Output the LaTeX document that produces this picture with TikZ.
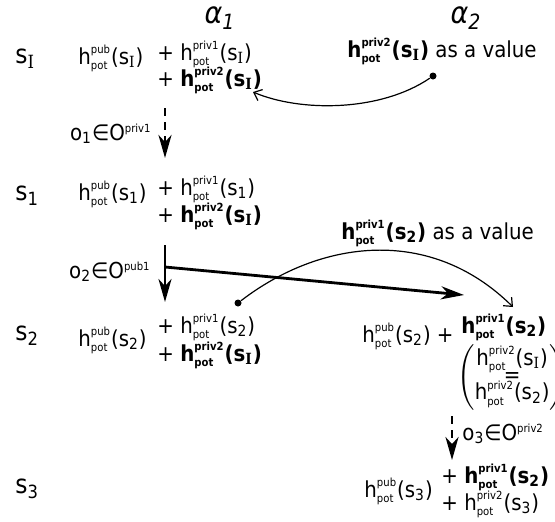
\documentclass[tikz,border=0pt]{standalone}
\usepackage{amsmath}
\usepackage{fontspec}
\setmainfont{DejaVu Sans}[FakeStretch=0.9]
\newfontfamily\Ifont{DejaVu Serif}[FakeStretch=0.9]
\usetikzlibrary{positioning,arrows.meta,calc}

% tiny script text for the h-terms
\newcommand\supf{\fontsize{5.6}{6}\selectfont}
\newcommand\sI{s\textsubscript{\Ifont I}}
\newcommand\sn[1]{s\textsubscript{#1}}
\newcommand\hpot[2]{\ensuremath{\hbox{h}^{\hbox{\supf #1}}_{\hbox{\supf pot}}}(#2)}
\newcommand\act[2]{o\textsubscript{#1}∈O\textsuperscript{\supf #2}}

\begin{document}
\begin{tikzpicture}[x=0.5pt,y=-0.5pt,font=\fontsize{11}{13}\selectfont,
    txt/.style={inner sep=0pt,anchor=base west},
    statelbl/.style={txt,font=\fontsize{13}{15}\selectfont},
    agent/.style={inner sep=0pt,font=\fontsize{15}{17}\selectfont\itshape},
    thickarr/.style={line width=1.4pt,-{Stealth[length=11.5pt,width=6.5pt,inset=3.5pt]}},
    dasharr/.style={thickarr,dash pattern=on 4pt off 3pt},
    valarr/.style={line width=0.6pt,-{Straight Barb[length=3.5pt,width=6pt]}},
    dot/.style={circle,fill,inner sep=0pt,minimum size=3.5pt}]
  \useasboundingbox (0,0) rectangle (555,521);

  % agents
  \node[agent] (alphaA) at (220,18) {α\textsubscript{1}};
  \node[agent] (alphaB) at (466,18) {α\textsubscript{2}};

  % states
  \node[statelbl] (lblI) at (15,63) {\sI};
  \node[statelbl] (lbl1) at (15,200) {\sn{1}};
  \node[statelbl] (lbl2) at (15,340) {\sn{2}};
  \node[statelbl] (lbl3) at (15,493) {\sn{3}};

  % potentials seen by agent 1
  \node[txt] (pubI) at (78,64) {\hpot{pub}{\sI}};
  \node[txt] (aI) at (157,60) {+ \hpot{priv1}{\sI}};
  \node[txt] (bI) at (157,86) {+ \textbf{\hpot{priv2}{\sI}}};

  \node[txt] (pub1) at (78,200) {\hpot{pub}{\sn{1}}};
  \node[txt] (a1) at (157,195) {+ \hpot{priv1}{\sn{1}}};
  \node[txt] (b1) at (157,222) {+ \textbf{\hpot{priv2}{\sI}}};

  \node[txt] (pub2) at (78,346) {\hpot{pub}{\sn{2}}};
  \node[txt] (a2) at (157,333) {+ \hpot{priv1}{\sn{2}}};
  \node[txt] (b2) at (157,361) {+ \textbf{\hpot{priv2}{\sI}}};

  % potentials seen by agent 2
  \node[txt] (valA) at (347,57) {\textbf{\hpot{priv2}{\sI}} as a value};
  \node[txt] (valB) at (341,239) {\textbf{\hpot{priv1}{\sn{2}}} as a value};

  \node[txt] (pubR2) at (362,342) {\hpot{pub}{\sn{2}} +};
  \node[txt] (privR2) at (461,333) {\textbf{\hpot{priv1}{\sn{2}}}};
  \node[inner sep=0pt,anchor=west] (eqcol) at (457,377)
    {$\left(\begin{array}{@{}c@{}}\hbox{\hpot{priv2}{\sI}}\\[-4.5pt]
      \hbox{=}\\[-4.5pt]\hbox{\hpot{priv2}{\sn{2}}}\end{array}\right)$};

  \node[txt] (pub3) at (364,497) {\hpot{pub}{\sn{3}}};
  \node[txt] (a3) at (441,483) {+ \textbf{\hpot{priv1}{\sn{2}}}};
  \node[txt] (b3) at (441,510) {+ \hpot{priv2}{\sn{3}}};

  % transitions
  \coordinate (t1s) at (165,108);
  \coordinate (t1e) at (165,158);
  \coordinate (t2s) at (165,245);
  \coordinate (t2e) at (165,302);
  \coordinate (t2m) at (165,267);
  \coordinate (t2r) at (464,295);
  \coordinate (t3s) at (452,416);
  \coordinate (t3e) at (452,460);
  \draw[dasharr] (t1s) -- (t1e);
  \draw[thickarr] (t2s) -- (t2e);
  \draw[thickarr] (t2m) -- (t2r);
  \draw[dasharr] (t3s) -- (t3e);
  \node[txt,anchor=base east] (o1) at (152,140) {\act{1}{priv1}};
  \node[txt,anchor=base east] (o2) at (151,278) {\act{2}{pub1}};
  \node[txt] (o3) at (462,440) {\act{3}{priv2}};

  % values handed over
  \node[dot] (dotA) at (433,76) {};
  \node[dot] (dotB) at (238,303) {};
  \coordinate (endA) at (253,92);
  \coordinate (endB) at (513,307);
  \draw[valarr] (dotA) .. controls (380,112) and (300,112) .. (endA);
  \draw[valarr] (dotB) .. controls (320,240) and (430,225) .. (endB);
\end{tikzpicture}
\end{document}
